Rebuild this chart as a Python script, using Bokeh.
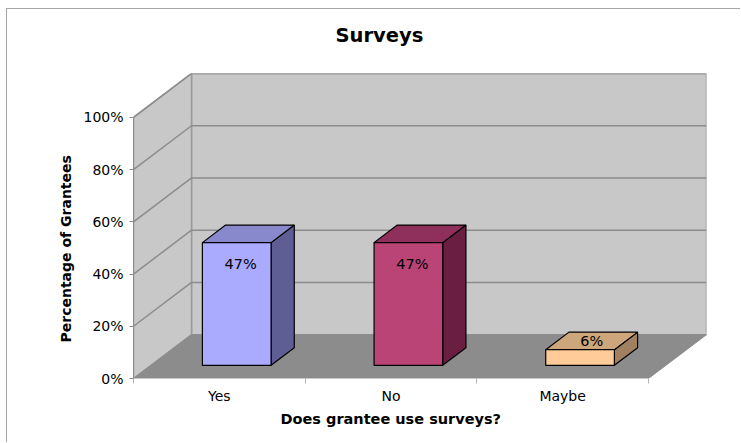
from bokeh.plotting import figure
from bokeh.models import FixedTicker, PrintfTickFormatter, Range1d, Title
from bokeh.core.properties import value
from bokeh.embed import file_html
from bokeh.resources import INLINE

# ---- data ----
categories = ["Yes", "No", "Maybe"]
percentages = [47, 47, 6]
front_colors = ["#aaaaff", "#bb4477", "#ffcc99"]
top_colors = ["#8888cc", "#8f2f5c", "#cda67c"]
side_colors = ["#5e5e94", "#6a1f42", "#a0805e"]
y_ticks = [0, 20, 40, 60, 80, 100]
chart_title = "Surveys"
y_title = "Percentage of Grantees"
x_title = "Does grantee use surveys?"

# ---- 3D styling constants ----
DX, DY = 0.338, 16.8          # depth offset in data units
BAR_W = 0.4
D0, D1 = 0.3, 0.7             # bar depth span (fraction of depth)
n = len(categories)
ymax = y_ticks[-1]
FONT = "DejaVu Sans"

p = figure(width=734, height=434,
           x_range=Range1d(0, n + DX), y_range=Range1d(0, ymax + DY),
           output_backend="svg", toolbar_location=None,
           min_border_left=126, min_border_right=35,
           min_border_top=63, min_border_bottom=65)
p.styles = {"margin-left": "6px", "margin-top": "8px",
            "border-left": "1px solid #a6a6a6", "border-top": "1px solid #a6a6a6"}
p.outline_line_color = None
p.grid.visible = False
p.background_fill_color = "white"

# walls and floor
p.patch([DX, n + DX, n + DX, DX], [DY, DY, ymax + DY, ymax + DY],
        fill_color="#c8c8c8", line_color="#9a9a9a", line_width=1.5)
p.patch([0, DX, DX, 0], [0, DY, ymax + DY, ymax],
        fill_color="#c8c8c8", line_color="#9a9a9a", line_width=1.5)
gx, gy = [], []
for v in y_ticks[1:]:
    gx.append([0, DX, n + DX]); gy.append([v, v + DY, v + DY])
p.multi_line(gx, gy, line_color="#8c8c8c", line_width=1.5)
p.patch([0, n, n + DX, DX], [0, 0, DY, DY],
        fill_color="#8c8c8c", line_color="#8c8c8c", line_width=1)

# bars
fx, fy, tx, ty, sx, sy = [], [], [], [], [], []
lx, ly, lxo, lyo, lt = [], [], [], [], []
for i, v in enumerate(percentages):
    cx = i + 0.5
    xl, xr = cx - BAR_W / 2, cx + BAR_W / 2
    fx.append([xl + D0 * DX, xr + D0 * DX, xr + D0 * DX, xl + D0 * DX])
    fy.append([D0 * DY, D0 * DY, v + D0 * DY, v + D0 * DY])
    tx.append([xl + D0 * DX, xr + D0 * DX, xr + D1 * DX, xl + D1 * DX])
    ty.append([v + D0 * DY, v + D0 * DY, v + D1 * DY, v + D1 * DY])
    sx.append([xr + D0 * DX, xr + D1 * DX, xr + D1 * DX, xr + D0 * DX])
    sy.append([D0 * DY, D1 * DY, v + D1 * DY, v + D0 * DY])
    lt.append(f"{v}%")
    if v > 15:
        lx.append(cx + D0 * DX); ly.append(v + D0 * DY); lxo.append(4); lyo.append(21)
    else:
        lx.append(cx + 0.5 * DX); ly.append(v + 0.5 * DY); lxo.append(0); lyo.append(0)

p.patches(sx, sy, fill_color=side_colors, line_color="black", line_width=1.2)
p.patches(tx, ty, fill_color=top_colors, line_color="black", line_width=1.2)
p.patches(fx, fy, fill_color=front_colors, line_color="black", line_width=1.2)
p.text(x=lx, y=ly, text=lt, x_offset=lxo, y_offset=lyo,
       text_font=value(FONT), text_font_size="14.5px", text_color="black",
       text_align="center", text_baseline="middle")

# axes
ya = p.yaxis[0]
ya.ticker = FixedTicker(ticks=y_ticks)
ya.formatter = PrintfTickFormatter(format="%d%%")
ya.bounds = (0, ymax)
ya.axis_line_color = "#8c8c8c"
ya.major_tick_line_color = "#8c8c8c"
ya.major_tick_out = 4
ya.major_tick_in = 0
ya.major_label_standoff = 6
ya.major_label_text_font = FONT
ya.major_label_text_font_size = "14px"
ya.major_label_text_color = "black"

xa = p.xaxis[0]
xa.ticker = FixedTicker(ticks=[i + 0.5 for i in range(n)], minor_ticks=list(range(n + 1)))
xa.major_label_overrides = {i + 0.5: c for i, c in enumerate(categories)}
xa.bounds = (0, n)
xa.axis_line_color = "#c8c8c8"
xa.major_tick_line_color = None
xa.major_tick_out = 0
xa.major_tick_in = 0
xa.minor_tick_line_color = "#b4b4b4"
xa.minor_tick_out = 5
xa.minor_tick_in = 0
xa.major_label_standoff = 4
xa.major_label_text_font = FONT
xa.major_label_text_font_size = "14px"
xa.major_label_text_color = "black"

# titles (spacer first = nearest to the frame, then the chart title)
p.add_layout(Title(text=" ", text_font_size="1px", standoff=11), "above")
p.add_layout(Title(text=chart_title, align="left", offset=202, standoff=25,
                   text_font=FONT, text_font_size="19.5px", text_font_style="bold",
                   text_color="black"), "above")
p.add_layout(Title(text=y_title, align="left", offset=36, standoff=14,
                   text_font=FONT, text_font_size="14px", text_font_style="bold",
                   text_color="black"), "left")
p.add_layout(Title(text=x_title, align="left", offset=147, standoff=4,
                   text_font=FONT, text_font_size="14.5px", text_font_style="bold",
                   text_color="black"), "below")

open("out.html", "w").write(file_html(p, INLINE))
